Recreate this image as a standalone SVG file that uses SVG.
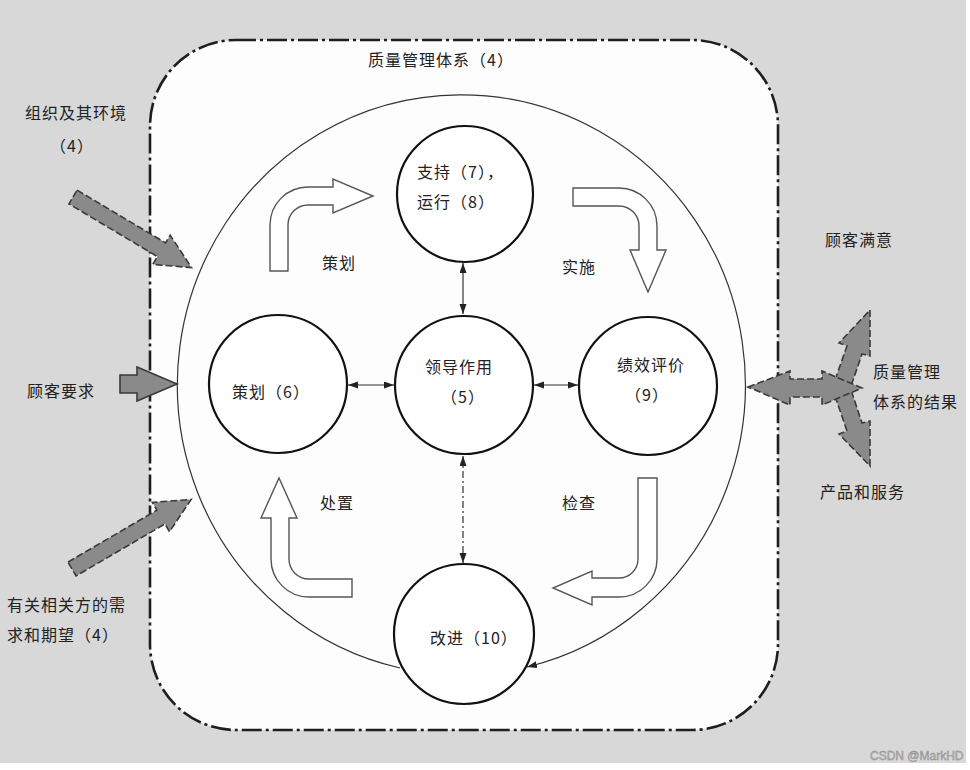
<svg xmlns="http://www.w3.org/2000/svg" width="970" height="770" viewBox="0 0 970 770">
<style>
  .t { font-family: "Noto Sans CJK SC", "Noto Sans", sans-serif; font-size: 16px; letter-spacing: 1px; fill: #222; }
  .node { fill: #fff; stroke: #111; stroke-width: 2.2; }
  .hollow { fill: #fff; stroke: #555; stroke-width: 1.4; stroke-linejoin: miter; }
  .gray { fill: #8a8a8a; stroke: #3a3a3a; stroke-width: 1.6; stroke-dasharray: 7 3; stroke-linejoin: miter; }
  .conn { fill: none; stroke: #333; stroke-width: 1.2; }
  .wm { font-family: "Liberation Sans", Arial, sans-serif; font-size: 12px; fill: #b4b4b4; stroke: #8a8a8a; stroke-width: 0.4; }
</style>
<defs>
  <marker id="ah" markerUnits="userSpaceOnUse" markerWidth="10" markerHeight="8" refX="10" refY="3.5" orient="auto-start-reverse">
    <path d="M0,0 L10,3.5 L0,7 z" fill="#222"/>
  </marker>
</defs>

<!-- background -->
<rect x="0" y="0" width="970" height="770" fill="#ffffff"/>
<rect x="0" y="0" width="966" height="763" fill="#d8d8d8"/>

<!-- QMS boundary -->
<g id="qms-boundary">
  <rect x="150" y="40" width="628" height="690" rx="86" ry="86" fill="#fdfdfd" stroke="#1e1e1e" stroke-width="2.6" stroke-dasharray="20 4 3 4"/>
  <text class="t" x="368" y="66">质量管理体系（4）</text>
</g>

<!-- external inputs / outputs -->
<g id="input-org">
  <polygon class="gray" points="0,-8 103,-8 103,-17 138,0 103,17 103,8 0,8" transform="translate(73,197) rotate(30.8)"/>
  <text class="t" x="25" y="119">组织及其环境</text>
  <text class="t" x="72" y="152" text-anchor="middle">（4）</text>
</g>
<g id="input-customer">
  <polygon points="120,375 137,375 137,367 177,384 137,401 137,393 120,393" fill="#8a8a8a" stroke="#3a3a3a" stroke-width="1.6"/>
  <text class="t" x="27" y="397">顾客要求</text>
</g>
<g id="input-parties">
  <polygon class="gray" points="0,-8 103,-8 103,-17 138,0 103,17 103,8 0,8" transform="translate(72,569) rotate(-30.3)"/>
  <text class="t" x="7" y="611">有关相关方的需</text>
  <text class="t" x="7" y="641">求和期望（4）</text>
</g>
<g id="output-results">
  <polygon class="gray" points="835,380 847,346 839,343 870,310 870,356 862,354 851,386"/>
  <polygon class="gray" points="835,396 847,431 839,434 870,466 870,421 862,423 851,390"/>
  <polygon class="gray" points="748,387 790,371 790,379 822,379 822,371 862,388 822,405 822,397 790,397 790,405"/>
  <text class="t" x="825" y="246">顾客满意</text>
  <text class="t" x="873" y="378">质量管理</text>
  <text class="t" x="873" y="408">体系的结果</text>
  <text class="t" x="820" y="498">产品和服务</text>
</g>

<!-- connectors -->
<g id="connectors">
  <path class="conn" d="M400,668 A284,290 0 1 1 527,667" marker-end="url(#ah)"/>
  <line class="conn" x1="463" y1="263" x2="463" y2="314" marker-start="url(#ah)" marker-end="url(#ah)"/>
  <line class="conn" x1="463" y1="456" x2="463" y2="563" stroke-dasharray="7 3 2 3" marker-start="url(#ah)" marker-end="url(#ah)"/>
  <line class="conn" x1="348" y1="385" x2="394" y2="385" marker-start="url(#ah)" marker-end="url(#ah)"/>
  <line class="conn" x1="534" y1="385" x2="578" y2="385" marker-start="url(#ah)" marker-end="url(#ah)"/>
</g>

<!-- PDCA hollow arrows -->
<g id="arrow-plan">
  <path class="hollow" d="M270,271 L270,225 A38,38 0 0 1 308,187 L333,187 L333,179 L373,196 L333,213 L333,205 L308,205 A20,20 0 0 0 288,225 L288,271 Z"/>
  <text class="t" x="322" y="269">策划</text>
</g>
<g id="arrow-do">
  <path class="hollow" d="M573,188 L619,188 A38,38 0 0 1 657,226 L657,250 L666,250 L648,292 L630,250 L639,250 L639,226 A20,20 0 0 0 619,206 L573,206 Z"/>
  <text class="t" x="562" y="273">实施</text>
</g>
<g id="arrow-check">
  <path class="hollow" d="M638,478 L657,478 L657,559 A38,38 0 0 1 619,597 L592,597 L592,605 L553,588 L592,571 L592,578 L619,578 A19,19 0 0 0 638,559 Z"/>
  <text class="t" x="562" y="509">检查</text>
</g>
<g id="arrow-act">
  <path class="hollow" d="M352,579 L352,597 L309,597 A38,38 0 0 1 271,559 L271,518 L261,518 L279,478 L297,518 L289,518 L289,559 A20,20 0 0 0 309,579 Z"/>
  <text class="t" x="320" y="509">处置</text>
</g>

<!-- nodes -->
<g id="node-support">
  <circle class="node" cx="465" cy="194" r="68"/>
  <text class="t" x="417" y="178">支持（7），</text>
  <text class="t" x="417" y="208">运行（8）</text>
</g>
<g id="node-leadership">
  <circle class="node" cx="464" cy="385" r="69"/>
  <text class="t" x="425" y="373">领导作用</text>
  <text class="t" x="463" y="403" text-anchor="middle">（5）</text>
</g>
<g id="node-planning">
  <circle class="node" cx="278" cy="384" r="69"/>
  <text class="t" x="232" y="398">策划（6）</text>
</g>
<g id="node-evaluation">
  <circle class="node" cx="648" cy="386" r="69"/>
  <text class="t" x="617" y="371">绩效评价</text>
  <text class="t" x="647" y="401" text-anchor="middle">（9）</text>
</g>
<g id="node-improvement">
  <circle class="node" cx="464" cy="634" r="70"/>
  <text class="t" x="430" y="644">改进（10）</text>
</g>

<text class="wm" x="870" y="760">CSDN @MarkHD</text>
</svg>
